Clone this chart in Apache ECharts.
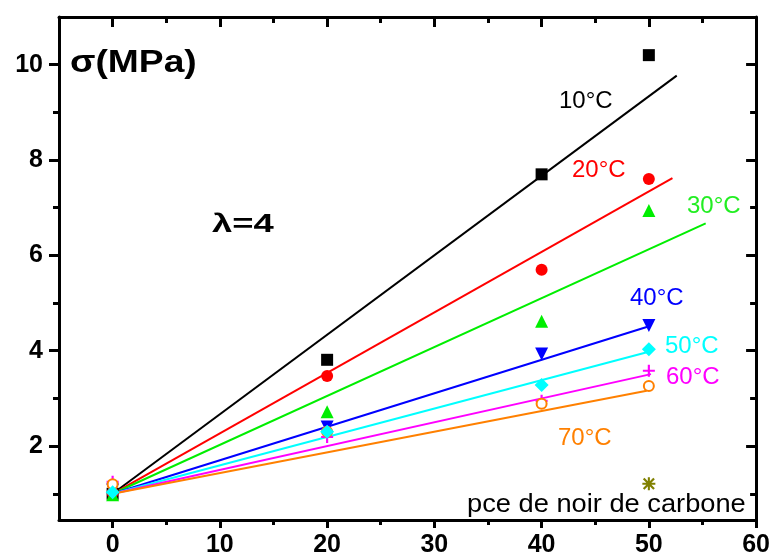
<!DOCTYPE html>
<html><head><meta charset="utf-8">
<script src="https://cdn.jsdelivr.net/npm/echarts@6/dist/echarts.min.js"></script>
<style>html,body{margin:0;padding:0;background:#fff}#c{width:773px;height:558px}</style>
</head><body><div id="c"></div>
<script>
// ---- data ----
const xValues = [0, 20, 40, 50];
const s10 = [1.00, 3.81, 7.70, 10.20];
const s20 = [1.02, 3.47, 5.70, 7.60];
const s30 = [0.98, 2.72, 4.62, 6.94];
const s40 = [1.08, 2.40, 3.93, 4.53];
const s50 = [1.03, 2.30, 3.28, 4.03];
const s60 = [1.25, 2.19, 2.95, 3.58];
const s70 = [1.20, 2.30, 2.89, 3.26];
const carbonX = [50];
const carbonY = [1.21];
// fitted lines (start and end points)
const fit10X = [0, 52.6], fit10Y = [1.0, 9.77];
const fit20X = [0, 52.2], fit20Y = [1.0, 7.62];
const fit30X = [0, 55.3], fit30Y = [1.0, 6.67];
const fit40X = [0, 50.1], fit40Y = [1.0, 4.52];
const fit50X = [0, 50.0], fit50Y = [1.0, 3.98];
const fit60X = [0, 50.2], fit60Y = [1.0, 3.51];
const fit70X = [0, 49.8], fit70Y = [1.0, 3.16];
const seriesNames = ['10°C', '20°C', '30°C', '40°C', '50°C', '60°C', '70°C'];
const xMajorTicks = [0, 10, 20, 30, 40, 50, 60];
const xMinorTicks = [5, 15, 25, 35, 45, 55];
const yMajorTicks = [2, 4, 6, 8, 10];
const yMinorTicks = [1, 3, 5, 7, 9];
const yLabel = 'σ(MPa)';
const lambdaLabel = 'λ=4';
const carbonLabel = 'pce de noir de carbone';

// ---- styles ----
const colors = ['#000000', '#ff0000', '#00ee00', '#0000ff', '#00ffff', '#ff00ff', '#ff8000'];
const plusPath = 'path://M4.1,0H5.9V4.1H10V5.9H5.9V10H4.1V5.9H0V4.1H4.1Z';
const starPath = 'path://M4.2,0H5.8V10H4.2Z M0,4.2H10V5.8H0Z M0.4,1.6L1.6,0.4L9.6,8.4L8.4,9.6Z M8.4,0.4L9.6,1.6L1.6,9.6L0.4,8.4Z';
const symbols = [
  {symbol: 'rect', size: 12, rot: 0},
  {symbol: 'circle', size: 12, rot: 0},
  {symbol: 'triangle', size: 13, rot: 0},
  {symbol: 'triangle', size: 13, rot: 180},
  {symbol: 'diamond', size: 14, rot: 0},
  {symbol: plusPath, size: 12, rot: 0},
  {symbol: 'emptyCircle', size: 10, rot: 0}
];
const drawOrder = [0, 1, 2, 3, 5, 6, 4];
const pts = [s10, s20, s30, s40, s50, s60, s70];
const fits = [[fit10X, fit10Y], [fit20X, fit20Y], [fit30X, fit30Y], [fit40X, fit40Y], [fit50X, fit50Y], [fit60X, fit60Y], [fit70X, fit70Y]];
const zip = (xs, ys) => xs.map((x, i) => [x, ys[i]]);

const labelFont = {fontFamily: 'Liberation Sans, Arial', fontWeight: 'bold', fontSize: 25, color: '#000'};
function xAx(pos, ticks, len, inside, labels, line) {
  return {
    type: 'value', position: pos, min: -5, max: 60, gridIndex: 0,
    axisLine: {show: line, onZero: false, lineStyle: {color: '#000', width: 3}},
    axisTick: {show: true, customValues: ticks, length: len, inside: inside, lineStyle: {color: '#000', width: 3}},
    axisLabel: labels ? Object.assign({show: true, customValues: xMajorTicks, margin: 13}, labelFont) : {show: false},
    splitLine: {show: false}
  };
}
function yAx(pos, ticks, len, inside, labels, line) {
  return {
    type: 'value', position: pos, min: 0.45, max: 11, gridIndex: 0,
    axisLine: {show: line, onZero: false, lineStyle: {color: '#000', width: 3}},
    axisTick: {show: true, customValues: ticks, length: len, inside: inside, lineStyle: {color: '#000', width: 3}},
    axisLabel: labels ? Object.assign({show: true, customValues: yMajorTicks, margin: 16}, labelFont) : {show: false},
    splitLine: {show: false}
  };
}

const series = [];
fits.forEach((f, i) => {
  series.push({
    type: 'line', name: seriesNames[i] + ' fit', data: zip(f[0], f[1]),
    showSymbol: false, symbol: 'none', xAxisIndex: 0, yAxisIndex: 0,
    lineStyle: {color: colors[i], width: 2}, z: 2, silent: true, animation: false
  });
});
drawOrder.forEach((i) => {
  const isEmpty = symbols[i].symbol === 'emptyCircle';
  series.push({
    type: 'scatter', name: seriesNames[i], data: zip(xValues, pts[i]),
    symbol: symbols[i].symbol, symbolSize: symbols[i].size, symbolRotate: symbols[i].rot,
    xAxisIndex: 0, yAxisIndex: 0,
    itemStyle: isEmpty ? {color: colors[i], borderColor: colors[i], borderWidth: 2, opacity: 1} : {color: colors[i], opacity: 1},
    z: 3, animation: false
  });
});
series.push({
  type: 'scatter', name: 'carbone', data: zip(carbonX, carbonY),
  symbol: starPath, symbolSize: 13, xAxisIndex: 0, yAxisIndex: 0,
  itemStyle: {color: '#808000', opacity: 1}, z: 3, animation: false
});

const labelPos = [
  [559, 101], [572, 170], [687, 206], [630, 298], [665, 346], [666, 377], [558, 438]
];
const graphics = seriesNames.map((n, i) => ({
  type: 'text', x: labelPos[i][0], y: labelPos[i][1], z: 10,
  style: {text: n, fill: colors[i] === '#00ee00' ? '#22ee22' : colors[i], font: '24px "Liberation Sans", Arial', textAlign: 'left', textVerticalAlign: 'middle'}
}));
graphics.push({
  type: 'text', x: 70, y: 63, scaleX: 1.2, z: 10,
  style: {text: yLabel, fill: '#000', font: 'bold 31px "Liberation Sans", Arial', textAlign: 'left', textVerticalAlign: 'middle'}
});
graphics.push({
  type: 'text', x: 212, y: 225, scaleX: 1.4, z: 10,
  style: {text: lambdaLabel, fill: '#000', font: 'bold 26px "Liberation Sans", Arial', textAlign: 'left', textVerticalAlign: 'middle'}
});
graphics.push({
  type: 'text', x: 467, y: 505, scaleX: 1.09, z: 10,
  style: {text: carbonLabel, fill: '#000', font: '25px "Liberation Sans", Arial', textAlign: 'left', textVerticalAlign: 'middle'}
});

const chart = echarts.init(document.getElementById('c'), null, {renderer: 'canvas'});
chart.setOption({
  animation: false,
  backgroundColor: '#fff',
  grid: {left: 59, right: 15, top: 17, bottom: 33, containLabel: false},
  xAxis: [
    xAx('bottom', xMajorTicks, 8, false, true, true),
    xAx('bottom', xMinorTicks, 5, false, false, false),
    xAx('top', xMajorTicks, 10, true, false, true),
    xAx('top', xMinorTicks, 6, true, false, false)
  ],
  yAxis: [
    yAx('left', yMajorTicks, 10, false, true, true),
    yAx('left', yMinorTicks, 6, false, false, false),
    yAx('right', yMajorTicks, 10, true, false, true),
    yAx('right', yMinorTicks, 6, true, false, false)
  ],
  series: series,
  graphic: graphics
});
</script></body></html>
